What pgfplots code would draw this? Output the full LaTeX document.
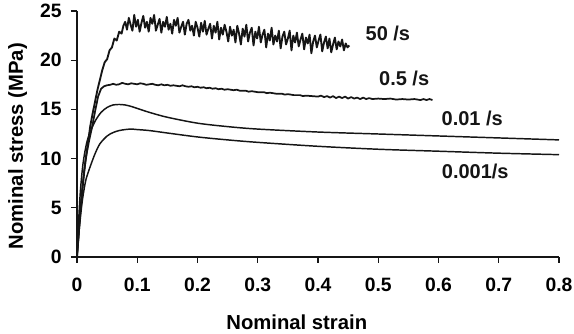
\documentclass[border=0pt]{standalone}
\usepackage{fontspec}
\setmainfont{Liberation Sans}
\usepackage{pgfplots}
\pgfplotsset{compat=1.18}
\definecolor{ink}{HTML}{151515}
\begin{document}
\begin{tikzpicture}[font=\fontsize{14.5}{17}\selectfont\bfseries]
\begin{axis}[
  scale only axis, width=361.5pt, height=184.5pt,
  xmin=0, xmax=0.8, ymin=0, ymax=25,
  axis x line=bottom, axis y line=left,
  axis line style={-, line width=0.9pt, color=ink},
  tick align=outside, major tick length=4.5pt,
  tick style={line width=0.9pt, color=ink},
  xtick={0,0.1,...,0.8}, ytick={0,5,...,25},
  minor tick num=0,
  /pgf/number format/assume math mode=true,
  xticklabel style={/pgf/number format/fixed, /pgf/number format/precision=1, yshift=-8pt},
  yticklabel style={xshift=-3.5pt},
  scaled x ticks=false,
  xlabel={Nominal strain}, ylabel={Nominal stress (MPa)},
  label style={font=\fontsize{15.2}{18}\selectfont\bfseries},
  xlabel style={at={(axis description cs:0.456,-0.264)}, anchor=center},
  ylabel style={at={(axis description cs:-0.1234,0.451)}, anchor=center, rotate=0},
  clip=false,
]
% 50 /s
\addplot[ink, line width=1.4pt, line join=round] coordinates {
(0,0) (0.003,2.5) (0.006,5) (0.01,7.5) (0.014,9.8) (0.018,11.5) (0.022,13.3) (0.026,14.6) (0.03,15.8) (0.034,17.0) (0.038,18.0)
(0.042,19.0) (0.046,19.8) (0.05,20.1) (0.054,21.0) (0.058,21.3) (0.062,22.2) (0.066,22.0) (0.070,22.9) (0.074,22.7) (0.077,23.5)
(0.080,23.9) (0.083,23.1) (0.086,24.3) (0.089,23.6) (0.092,23.0) (0.095,24.6) (0.098,23.4) (0.101,24.1) (0.104,22.9) (0.107,23.8)
(0.110,24.5) (0.113,23.3) (0.116,23.9) (0.119,22.9) (0.122,24.3) (0.125,23.7) (0.128,24.6) (0.131,23.0) (0.134,23.6) (0.137,24.2)
(0.140,22.8) (0.143,23.9) (0.146,23.4) (0.149,24.4) (0.152,23.1) (0.155,23.7) (0.158,22.7) (0.161,24.1) (0.164,23.5) (0.167,24.3)
(0.170,22.8) (0.173,23.4) (0.176,23.9) (0.179,22.6) (0.182,23.7) (0.185,24.1) (0.188,23.0) (0.191,23.5) (0.194,22.5) (0.197,23.9)
(0.200,23.3) (0.203,22.4) (0.206,23.8) (0.209,22.9) (0.212,24.0) (0.215,22.6) (0.218,23.2) (0.221,23.7) (0.224,22.2) (0.227,23.5)
(0.230,22.8) (0.233,23.9) (0.236,22.1) (0.239,23.3) (0.242,22.6) (0.245,23.6) (0.248,22.9) (0.251,21.9) (0.254,23.4) (0.257,22.5)
(0.260,23.1) (0.263,21.8) (0.266,23.5) (0.269,22.7) (0.272,21.6) (0.275,23.2) (0.278,22.4) (0.281,23.6) (0.284,21.9) (0.287,22.8)
(0.290,23.3) (0.293,21.5) (0.296,22.9) (0.299,22.2) (0.302,23.4) (0.305,21.8) (0.308,22.6) (0.311,23.1) (0.314,21.3) (0.317,22.7)
(0.320,22.0) (0.323,23.3) (0.326,21.6) (0.329,22.5) (0.332,21.9) (0.335,23.0) (0.338,21.2) (0.341,22.4) (0.344,22.9) (0.347,21.6)
(0.350,22.2) (0.353,23.0) (0.356,21.0) (0.359,22.5) (0.362,21.8) (0.365,22.8) (0.368,21.4) (0.371,22.1) (0.374,22.7) (0.377,21.1)
(0.380,22.3) (0.383,21.7) (0.386,22.6) (0.389,20.7) (0.392,21.9) (0.395,22.5) (0.398,21.3) (0.401,22.0) (0.404,22.6) (0.407,20.9)
(0.410,21.8) (0.413,22.4) (0.416,21.2) (0.419,22.2) (0.422,20.8) (0.425,21.6) (0.428,22.3) (0.431,21.1) (0.434,21.9) (0.437,21.4)
(0.440,22.1) (0.443,21.0) (0.446,21.7) (0.449,21.3) (0.452,21.5)
};
% 0.5 /s
\addplot[ink, line width=1.3pt, line join=round] coordinates {
(0,0) (0.004,3.5) (0.008,6.5) (0.012,8.8) (0.016,10.5) (0.02,11.8) (0.025,13.2) (0.03,14.8) (0.035,16.3) (0.04,17.1) (0.045,17.35)
(0.05,17.45) (0.055,17.5) (0.06,17.6) (0.065,17.5) (0.07,17.55) (0.075,17.7) (0.08,17.6) (0.085,17.55) (0.09,17.65) (0.095,17.6)
(0.1,17.55) (0.105,17.65) (0.11,17.6) (0.115,17.5) (0.12,17.55) (0.125,17.6) (0.13,17.5) (0.135,17.45) (0.14,17.55) (0.145,17.45)
(0.15,17.5) (0.155,17.4) (0.16,17.45) (0.165,17.4) (0.17,17.35) (0.175,17.45) (0.18,17.35) (0.185,17.3) (0.19,17.35) (0.195,17.25)
(0.2,17.3) (0.205,17.2) (0.21,17.25) (0.215,17.15) (0.22,17.2) (0.225,17.1) (0.23,17.15) (0.235,17.05) (0.24,17.1) (0.245,17.0)
(0.25,17.05) (0.26,16.95) (0.265,17.0) (0.27,16.9) (0.28,16.9) (0.285,16.8) (0.29,16.85) (0.3,16.75) (0.31,16.75) (0.315,16.65)
(0.32,16.7) (0.33,16.6) (0.34,16.6) (0.345,16.5) (0.35,16.55) (0.36,16.45) (0.37,16.45) (0.375,16.35) (0.38,16.4) (0.39,16.35)
(0.4,16.3) (0.405,16.4) (0.41,16.25) (0.415,16.35) (0.42,16.2) (0.425,16.35) (0.43,16.15) (0.435,16.3) (0.44,16.15) (0.445,16.3)
(0.45,16.1) (0.455,16.25) (0.46,16.1) (0.465,16.2) (0.47,16.05) (0.475,16.2) (0.48,16.05) (0.485,16.15) (0.49,16.05) (0.5,16.1)
(0.51,16.05) (0.52,16.1) (0.53,16.0) (0.54,16.05) (0.55,16.0) (0.56,16.05) (0.57,15.95) (0.575,16.05) (0.58,15.95) (0.585,16.05) (0.59,15.95)
};
% 0.01 /s
\addplot[ink, line width=1.1pt, smooth] coordinates {
(0,0) (0.003,4) (0.006,7) (0.01,9.5) (0.015,11.3) (0.02,12.4) (0.03,13.8) (0.04,14.7) (0.05,15.2) (0.06,15.45) (0.07,15.5) (0.08,15.45) (0.09,15.3) (0.1,15.1) (0.12,14.7) (0.15,14.2) (0.2,13.6) (0.25,13.25) (0.3,13.0) (0.4,12.7) (0.5,12.5) (0.6,12.3) (0.7,12.1) (0.8,11.9)
};
% 0.001 /s
\addplot[ink, line width=1.1pt, smooth] coordinates {
(0,0) (0.004,3) (0.008,5.3) (0.011,6.6) (0.015,7.9) (0.022,9.2) (0.03,10.5) (0.038,11.5) (0.05,12.3) (0.06,12.65) (0.07,12.85) (0.08,12.95) (0.09,13.0) (0.1,12.95) (0.12,12.85) (0.15,12.6) (0.2,12.2) (0.25,11.9) (0.3,11.65) (0.4,11.25) (0.5,10.95) (0.6,10.75) (0.7,10.55) (0.8,10.4)
};
\begin{scope}[font=\fontsize{15}{18}\selectfont\bfseries]
\node[ink] at (axis cs:0.516,22.7) {50 /s};
\node[ink] at (axis cs:0.543,18.16) {0.5 /s};
\node[ink] at (axis cs:0.656,14.1) {0.01 /s};
\node[ink] at (axis cs:0.661,8.67) {0.001/s};
\end{scope}
\end{axis}
\pgfresetboundingbox
\path ([shift={(-57.75pt,-57.75pt)}]current axis.south west) rectangle ([shift={(11.25pt,8.25pt)}]current axis.north east);
\end{tikzpicture}
\end{document}
